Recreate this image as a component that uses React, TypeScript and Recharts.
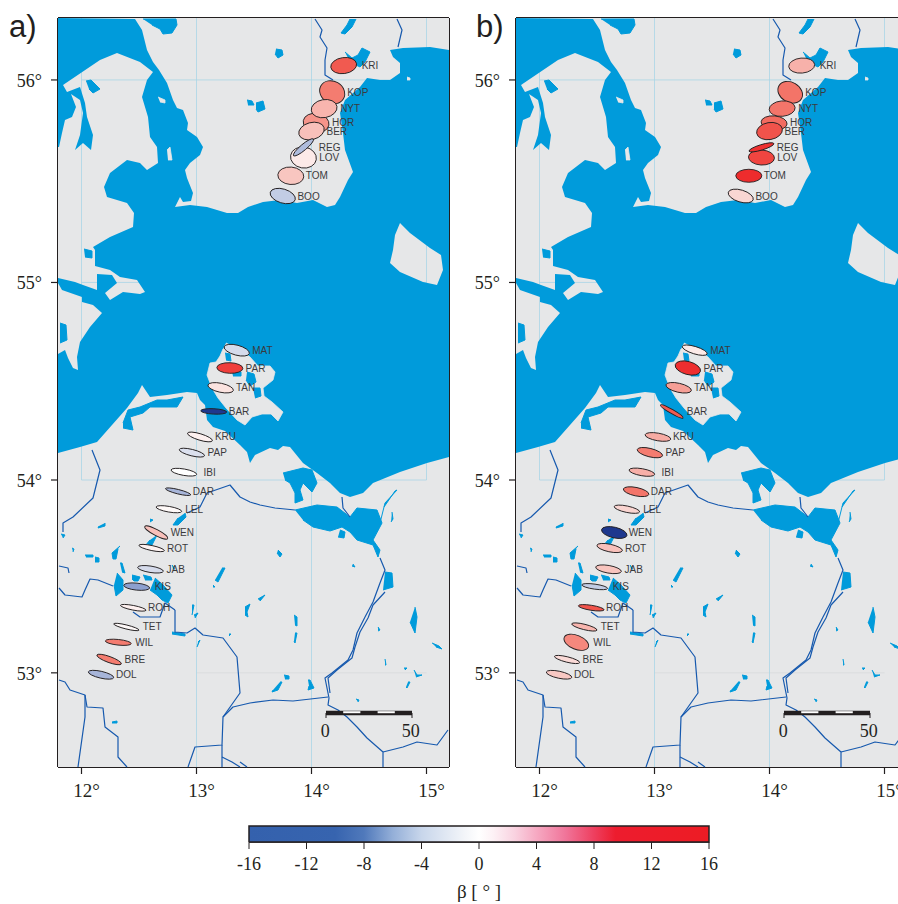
import { ScatterChart, Scatter, XAxis, YAxis, ReferenceLine } from 'recharts'

// Outlines are read off the picture, in Mercator map-grid units
// (115 units per degree of longitude, origin at the frame's SW corner).
const LAND = '#e6e7e8'
const SEA = '#009bdb'
const RIVER = '#1659ae'
const GRID = '#a9d6e6'
const INK = '#231f20'
const FRAME_E = 391
const FRAME_N = 749

const seaOutline = [
  [0,749],[77,748],[84,737],[89,717],[95,705],[101,697],[109,684],[115,667],[119,659],[125,657],[130,644],[129,637],[139,630],[145,620],[142,612],[132,604],[127,597],[129,589],[135,574],[133,566],[125,565],[122,570],[117,560],[132,562],[149,560],[169,554],[180,554],[190,560],[205,565],[222,567],[239,564],[255,567],[269,560],[277,562],[282,570],[290,587],[295,595],[287,617],[285,634],[282,654],[287,667],[302,680],[309,689],[322,687],[332,687],[342,694],[342,704],[335,710],[332,717],[345,719],[372,720],[391,717],
  [391,512],[383,512],[372,519],[352,534],[342,544],[337,532],[335,517],[332,504],[342,495],[365,485],[379,482],[385,497],[383,512],[391,512],
  [391,310],[369,304],[342,295],[315,284],[305,274],[292,270],[282,274],[272,284],[259,294],[245,304],[232,320],[225,321],[220,317],[212,319],[197,312],[192,304],[189,315],[182,322],[167,336],[155,340],[149,347],[147,362],[142,367],[139,374],[129,375],[109,372],[92,370],[84,382],[80,374],[69,359],[54,342],[39,325],[22,320],[0,314],
  [0,413],[7,417],[10,409],[15,399],[20,397],[19,410],[22,425],[32,440],[44,454],[35,462],[24,465],[24,470],[4,477],[0,484],[0,489],[17,485],[25,482],[39,477],[39,493],[54,492],[59,484],[47,474],[52,467],[65,475],[82,473],[87,475],[79,487],[62,490],[52,497],[37,501],[37,509],[37,517],[35,520],[52,530],[75,540],[76,554],[69,564],[49,570],[46,580],[52,594],[69,607],[82,604],[89,597],[100,604],[99,620],[92,630],[90,650],[84,670],[89,687],[95,695],[82,705],[59,714],[42,707],[5,682],[9,675],[22,680],[27,664],[29,650],[35,632],[33,617],[25,624],[17,617],[22,632],[25,654],[22,667],[13,673],[18,660],[14,650],[7,647],[4,634],[1,620],[0,620],
]

const landIslands = [
  [[168,424],[182,417],[192,410],[200,401],[212,401],[217,395],[215,387],[205,379],[206,371],[214,365],[225,355],[220,346],[213,353],[204,353],[194,350],[187,342],[179,347],[168,359],[160,369],[154,379],[149,392],[152,404],[158,405],[162,411],[165,418]],
  [[100,670],[107,667],[107,664],[102,665]],
  [[109,617],[112,620],[114,607],[110,607]],
  [[349,690],[352,689],[352,687],[349,687]],
]

const waterBodies = [
  [[189,395],[196,393],[198,385],[192,381],[188,387]],
  [[195,379],[202,379],[203,371],[197,369]],
  [[167,414],[172,413],[173,406],[168,407]],
  [[174,395],[183,395],[183,391],[175,391]],
  [[65,344],[70,357],[82,360],[99,367],[109,367],[125,370],[119,360],[109,360],[92,360],[85,354],[72,350],[75,337],[65,339]],
  [[225,294],[245,299],[254,297],[259,284],[254,275],[245,284],[242,277],[245,267],[237,264],[237,274],[232,284],[227,287]],
  [[237,257],[259,262],[279,260],[292,250],[299,259],[319,257],[324,244],[315,227],[322,217],[320,210],[315,222],[299,227],[292,235],[284,240],[272,236],[255,240],[245,247]],
  [[298,748],[294,740],[287,733],[283,734],[289,742],[292,748]],
  [[287,715],[294,709],[300,712],[304,719],[312,715],[307,705],[302,700],[292,705]],
  [[218,718],[224,717],[225,712],[220,709],[217,713]],
  [[189,667],[194,666],[196,662],[190,662]],
  [[198,664],[205,666],[207,658],[200,655],[198,658]],
  [[28,686],[33,687],[42,678],[35,674],[31,678]],
  [[85,748],[118,748],[119,742],[114,734],[105,733],[102,738],[94,742]],
  [[26,518],[34,516],[34,509],[27,510]],
  [[2,444],[8,442],[9,427],[2,424]],
  [[327,195],[334,194],[335,180],[325,177]],
  [[220,217],[224,213],[222,210],[219,214]],
  [[295,203],[297,200],[294,201]],
  [[236,152],[239,150],[239,141],[237,142]],
  [[237,134],[239,134],[237,124],[236,126]],
  [[226,92],[231,91],[231,88],[227,88]],
  [[222,85],[224,85],[220,77],[214,75],[215,77]],
  [[250,87],[252,87],[256,79],[250,77],[251,81]],
  [[298,68],[301,67],[300,65]],
  [[357,160],[359,150],[357,134],[352,145]],
  [[374,124],[381,121],[384,118],[378,120]],
  [[320,140],[322,137],[320,136]],
  [[327,108],[328,102],[327,102]],
  [[346,99],[349,99],[347,97]],
  [[356,97],[359,92],[364,92],[358,90]],
  [[350,85],[352,85],[349,79],[348,80]],
  [[334,255],[335,248],[333,245]],
  [[322,244],[327,264],[339,277],[337,276],[326,260]],
  [[282,237],[287,235],[286,229],[280,230]],
  [[127,254],[128,250],[120,242],[115,242],[120,249]],
  [[99,232],[94,222],[87,221],[92,227]],
  [[92,248],[95,247],[92,245]],
  [[47,244],[47,241],[40,239],[41,241]],
  [[3,233],[7,232],[5,229]],
  [[14,219],[16,218],[15,215]],
  [[27,212],[35,212],[35,210],[28,210]],
  [[37,210],[41,209],[41,205],[37,205]],
  [[62,221],[54,214],[55,208],[58,208],[60,218]],
  [[62,204],[64,204],[67,194],[64,195]],
  [[59,194],[65,187],[65,177],[58,171],[56,182]],
  [[74,192],[82,190],[80,186],[76,186],[74,188]],
  [[85,192],[93,190],[94,187],[87,187]],
  [[97,189],[105,182],[114,172],[110,164],[104,167],[99,172],[92,177]],
  [[114,202],[117,198],[115,198]],
  [[164,199],[167,199],[160,185],[157,187]],
  [[155,182],[157,180],[155,180]],
  [[134,162],[136,162],[134,152]],
  [[136,152],[140,154],[137,149]],
  [[171,133],[173,133],[171,131]],
  [[140,125],[142,127],[139,120]],
  [[54,45],[59,46],[59,44],[54,44]],
  [[187,160],[192,163],[189,155],[190,150],[187,152]],
  [[200,168],[207,172],[202,166]],
  [[114,135],[127,133],[127,131],[114,133]],
]

const rivers = [
  [[322,209],[327,197],[322,184],[315,165],[307,150],[299,134],[295,117],[290,107],[274,94],[267,89],[270,74],[271,69],[270,62],[280,57],[289,50],[299,40],[309,29],[325,15],[325,0]],
  [[327,175],[315,162],[310,149],[302,135],[297,120],[294,109],[279,97],[270,89],[272,74]],
  [[130,0],[137,20],[164,22],[165,50],[175,60],[192,64],[215,67],[235,66],[270,70]],
  [[117,157],[117,135],[129,134],[137,139],[145,132],[165,129],[179,110],[182,74],[165,50]],
  [[164,22],[164,0]],
  [[1,87],[7,85],[12,77],[27,72],[29,60],[45,59],[47,40],[60,30],[60,10],[69,0]],
  [[27,72],[27,50],[20,0]],
  [[1,179],[7,172],[24,170],[27,177],[32,188],[40,187],[55,181]],
  [[1,201],[10,199],[11,194]],
  [[34,317],[42,297],[35,269],[15,250],[5,244],[5,235]],
  [[129,254],[142,260],[149,274],[172,282],[182,270],[192,265],[202,262],[217,259],[237,257]],
  [[325,15],[345,20],[359,25],[379,22],[390,37]],
  [[182,5],[189,0]],
  [[164,10],[174,5],[182,0]],
  [[75,155],[82,150],[102,150],[107,164],[117,157]],
  [[257,748],[264,737],[262,730],[269,719],[267,707],[267,692],[275,687]],
  [[339,748],[344,737],[340,720]],
  [[284,270],[285,259],[292,250]],
]

const lonTicks = [12, 13, 14, 15]
const latTicks = [53, 54, 55, 56]

const stationNames = ['KRI','KOP','HOR','NYT','BER','LOV','REG','TOM','BOO','MAT','PAR','TAN','BAR','KRU','PAP','IBI','DAR','LEL','WEN','ROT','JAB','KIS','ROH','TET','WIL','BRE','DOL']
const stationLon = [14.28,14.18,14.04,14.11,14.00,13.93,13.93,13.82,13.75,13.35,13.29,13.21,13.15,13.03,12.96,12.89,12.84,12.76,12.65,12.61,12.60,12.48,12.45,12.39,12.32,12.24,12.17]
const stationLat = [56.07,55.94,55.79,55.86,55.75,55.62,55.67,55.53,55.43,54.66,54.57,54.47,54.35,54.22,54.14,54.04,53.94,53.85,53.73,53.65,53.54,53.45,53.34,53.24,53.16,53.07,52.99]
const labelGap = [18,15,16,16,15,15.7,15.4,15,14.7,15.4,15.7,15.3,15,15,15.7,19.7,14.7,16.4,14.4,15.3,16,18,14.7,16.3,17,15.4,15]

const betaA = [8,6,5,3.5,3,1,-4,2.7,-3,-2,10,1.3,-16,0.7,-1.7,0,-4.5,0.3,3,0.6,-2,-6,0.7,0.3,6,6,-4.5]
const minorA = [8,11,9.5,9,8.5,10.5,3,8.7,7,5,5.3,4.5,2.7,3.2,3.2,3.2,2.2,2.8,3,2.5,3.2,3.5,2.3,2,2.8,3,3.4]
const tiltA = [-8,30,10,-10,-15,10,-40,5,17,15,2,12,3,17,14,10,14,10,28,12,9,6,11,14,6,20,13]

const betaB = [3.7,6.5,7,6.4,8.5,9.5,11,13,1.9,1,12,4.5,8,4,6,3.8,6.4,2,-16,3,2.8,-3,8.5,3.5,5.5,1.7,2.6]
const minorB = [7.5,10,7,7.7,8.5,7.5,2.7,6.5,6,3.7,6.5,4.5,2,3.8,4.2,3.5,4.2,3.2,5.3,3.8,3.8,2.5,2.5,2.7,7,2.7,3.5]
const tiltB = [-5,30,5,-5,-10,3,-17,0,17,17,15,13,30,10,14,10,12,12,13,12,10,8,9,14,22,14,12]

const scaleKm = [0, 10, 20, 30, 40, 50]
const barTicks = [-16, -12, -8, -4, 0, 4, 8, 12, 16]
const barStops: [number, string][] = [
  [-16, '#3461ad'], [-10, '#3764af'], [-8, '#5079bb'], [-6, '#94afd8'], [-4, '#c8d6eb'], [-1, '#f3f5f9'], [0, '#ffffff'],
  [1, '#fdf1f5'], [2.5, '#f9d2e0'], [4, '#f6a9c2'], [6, '#f0759a'], [8, '#ee3f5f'], [9.5, '#ed1c2e'], [16, '#ed1c24'],
]

const markerStops: [number, number[]][] = [
  [-16, [30, 56, 142]], [-6, [141, 160, 207]], [-4, [175, 188, 220]], [-2, [213, 219, 235]], [0, [255, 255, 255]],
  [2, [249, 212, 208]], [4, [247, 171, 163]], [6, [244, 124, 112]], [8, [241, 90, 80]], [11, [238, 48, 48]], [16, [238, 37, 41]],
]

function betaColor(b: number) {
  for (let i = 1; i < markerStops.length; i++) {
    const [v0, c0] = markerStops[i - 1]
    const [v1, c1] = markerStops[i]
    if (b <= v1) {
      const t = (b - v0) / (v1 - v0)
      return `rgb(${c0.map((c, k) => Math.round(c + (c1[k] - c) * t)).join(',')})`
    }
  }
  return '#ee2529'
}

const easting = (lon: number) => 23.5 + 115 * (lon - 12)
const mercDeg = (lat: number) => (180 / Math.PI) * Math.log(Math.tan(Math.PI / 4 + (lat * Math.PI) / 360))
const northing = (lat: number) => 287 + 114.7 * (mercDeg(lat) - mercDeg(54))
const kmEast = (km: number) => 268 + km * 1.72

const pts = (line: number[][]) => line.map(([e, n]) => ({ e, n }))
const seg = (a: number[], b: number[]) => pts([a, b])

const xTicks = lonTicks.map(easting)
const yTicks = latTicks.map(northing)
const N56 = northing(56)
const N55 = northing(55)
const N54 = northing(54)
const N53 = northing(53)
const E12 = easting(12)
const E13 = easting(13)
const E14 = easting(14)
const E15 = easting(15)

const graticule = [
  seg([E12, FRAME_N], [E12, N54]),
  seg([E15, FRAME_N], [E15, N54]),
  seg([E13, FRAME_N], [E13, 0]),
  seg([E14, FRAME_N], [E14, 0]),
  seg([E12, N56], [E15, N56]),
  seg([E12, N55], [E15, N55]),
  seg([E12, N54], [E15, N54]),
]

const waterLine = { stroke: SEA, strokeWidth: 1, strokeLinejoin: 'round', fill: SEA }
const landLine = { stroke: LAND, strokeWidth: 0.8, strokeLinejoin: 'round', fill: LAND }

function stations(beta: number[], minor: number[], tilt: number[]) {
  return stationNames.map((name, i) => ({
    name,
    e: easting(stationLon[i]),
    n: northing(stationLat[i]),
    color: betaColor(beta[i]),
    minor: minor[i],
    tilt: tilt[i],
    gap: labelGap[i],
  }))
}

const NoPoint = () => null

function EllipseMark(props: any) {
  const { cx, cy, payload } = props
  return (
    <ellipse
      cx={cx}
      cy={cy}
      rx={13}
      ry={payload.minor}
      fill={payload.color}
      stroke={INK}
      strokeWidth={0.9}
      transform={`rotate(${payload.tilt} ${cx} ${cy})`}
    />
  )
}

function StationLabel(props: any) {
  const { cx, cy, payload } = props
  return (
    <text x={cx + payload.gap} y={cy + 3.5} fontFamily="Liberation Sans" fontSize={10} fill="#3a3a3c">
      {payload.name}
    </text>
  )
}

function ScaleLabel(props: any) {
  const { cx, cy, payload } = props
  return (
    <text x={cx} y={cy} textAnchor="middle" fontFamily="Liberation Serif" fontSize={18} fill={INK}>
      {payload.text}
    </text>
  )
}

function LonTick(props: any) {
  const { x, y, index } = props
  return (
    <text x={x + 5} y={y + 21} textAnchor="middle" fontFamily="Liberation Serif" fontSize={19} fill={INK}>
      {lonTicks[index]}°
    </text>
  )
}

function LatTick(props: any) {
  const { y, index } = props
  return (
    <text x={42} y={y + 7} textAnchor="end" fontFamily="Liberation Serif" fontSize={18} fill={INK}>
      {latTicks[index]}°
    </text>
  )
}

const axisLine = { stroke: INK, strokeWidth: 2 }
const tickLine = { stroke: INK, strokeWidth: 1.2 }

function MapPanel({ tag, time, beta, minor, tilt, tagX }: { tag: string; time: string; beta: number[]; minor: number[]; tilt: number[]; tagX: number }) {
  const marks = stations(beta, minor, tilt)
  return (
    <ScatterChart width={467} height={802} margin={{ top: 8, right: 8, bottom: 5, left: 8 }}>
      <XAxis xAxisId="b" type="number" dataKey="e" domain={[0, FRAME_E]} ticks={xTicks} interval={0} height={30} tickSize={7} tick={<LonTick />} axisLine={axisLine} tickLine={tickLine} />
      <XAxis xAxisId="t" type="number" orientation="top" domain={[0, FRAME_E]} ticks={xTicks} interval={0} height={10} tickSize={7} tickFormatter={() => ''} axisLine={axisLine} tickLine={tickLine} />
      <YAxis yAxisId="l" type="number" dataKey="n" domain={[0, FRAME_N]} ticks={yTicks} interval={0} width={50} tickSize={7} tick={<LatTick />} axisLine={axisLine} tickLine={tickLine} />
      <YAxis yAxisId="r" type="number" orientation="right" domain={[0, FRAME_N]} ticks={yTicks} interval={0} width={10} tickSize={7} tickFormatter={() => ''} axisLine={axisLine} tickLine={tickLine} />

      <Scatter xAxisId="b" yAxisId="l" data={pts([[0, 0], [FRAME_E, 0], [FRAME_E, FRAME_N], [0, FRAME_N]])} shape={NoPoint} line={{ stroke: 'none', fill: LAND }} isAnimationActive={false} />
      <Scatter xAxisId="b" yAxisId="l" data={seg([E13, N53], [E15, N53])} shape={NoPoint} line={{ stroke: '#d8dbdc', strokeWidth: 0.8 }} isAnimationActive={false} />
      {graticule.map((g, i) => (
        <Scatter key={`g${i}`} xAxisId="b" yAxisId="l" data={g} shape={NoPoint} line={{ stroke: GRID, strokeWidth: 0.8 }} isAnimationActive={false} />
      ))}
      <Scatter xAxisId="b" yAxisId="l" data={pts(seaOutline)} shape={NoPoint} line={{ stroke: 'none', fill: SEA }} isAnimationActive={false} />
      {landIslands.map((p, i) => (
        <Scatter key={`i${i}`} xAxisId="b" yAxisId="l" data={pts(p)} shape={NoPoint} line={landLine} isAnimationActive={false} />
      ))}
      {waterBodies.map((p, i) => (
        <Scatter key={`w${i}`} xAxisId="b" yAxisId="l" data={pts(p)} shape={NoPoint} line={waterLine} isAnimationActive={false} />
      ))}
      {rivers.map((p, i) => (
        <Scatter key={`r${i}`} xAxisId="b" yAxisId="l" data={pts(p)} shape={NoPoint} line={{ stroke: RIVER, strokeWidth: 1.2, strokeLinejoin: 'round' }} isAnimationActive={false} />
      ))}

      <Scatter xAxisId="b" yAxisId="l" data={marks} shape={<EllipseMark />} isAnimationActive={false} />
      <Scatter xAxisId="b" yAxisId="l" data={marks} shape={<StationLabel />} isAnimationActive={false} />

      <Scatter xAxisId="b" yAxisId="l" data={seg([kmEast(0), 54], [kmEast(50), 54])} shape={NoPoint} line={{ stroke: INK, strokeWidth: 4.5 }} isAnimationActive={false} />
      <Scatter xAxisId="b" yAxisId="l" data={seg([kmEast(scaleKm[1]), 54.8], [kmEast(scaleKm[2]), 54.8])} shape={NoPoint} line={{ stroke: '#ffffff', strokeWidth: 2 }} isAnimationActive={false} />
      <Scatter xAxisId="b" yAxisId="l" data={seg([kmEast(scaleKm[3]), 54.8], [kmEast(scaleKm[4]), 54.8])} shape={NoPoint} line={{ stroke: '#ffffff', strokeWidth: 2 }} isAnimationActive={false} />
      <Scatter xAxisId="b" yAxisId="l" data={seg([kmEast(scaleKm[0]), 54], [kmEast(scaleKm[0]), 49])} shape={NoPoint} line={{ stroke: INK, strokeWidth: 1 }} isAnimationActive={false} />
      <Scatter xAxisId="b" yAxisId="l" data={seg([kmEast(scaleKm[5]), 54], [kmEast(scaleKm[5]), 49])} shape={NoPoint} line={{ stroke: INK, strokeWidth: 1 }} isAnimationActive={false} />
      <Scatter xAxisId="b" yAxisId="l" data={[{ e: kmEast(0) - 0.7, n: 30, text: '0' }, { e: kmEast(50) - 1.3, n: 30, text: '50' }]} shape={<ScaleLabel />} isAnimationActive={false} />

      <text x={tagX} y={37} fontFamily="Liberation Sans" fontSize={31} fill={INK}>{tag}</text>
      <text x={82} y={45} fontFamily="Liberation Sans" fontSize={15.5} fill={INK}>{time}</text>
    </ScatterChart>
  )
}

function ColorBar() {
  return (
    <ScatterChart width={898} height={94} margin={{ top: 16, right: 189, bottom: 0, left: 249 }}>
      <defs>
        <linearGradient id="betaRamp" x1="0" x2="1" y1="0" y2="0">
          {barStops.map(([v, c]) => (
            <stop key={v} offset={`${((v + 16) / 32) * 100}%`} stopColor={c} />
          ))}
        </linearGradient>
      </defs>
      <XAxis
        type="number"
        dataKey="x"
        domain={[-16, 16]}
        ticks={barTicks}
        interval={0}
        height={62}
        tickSize={7}
        tickMargin={8}
        tick={{ fontFamily: 'Liberation Serif', fontSize: 18, fill: INK }}
        axisLine={{ stroke: INK, strokeWidth: 1.5 }}
        tickLine={{ stroke: INK, strokeWidth: 1 }}
        label={{ value: 'β [ ° ]', position: 'insideBottom', offset: 6, fontFamily: 'Liberation Serif', fontSize: 19, fill: INK }}
      />
      <YAxis type="number" dataKey="y" domain={[0, 1]} hide />
      <Scatter
        data={[{ x: -16, y: 0 }, { x: 16, y: 0 }, { x: 16, y: 1 }, { x: -16, y: 1 }, { x: -16, y: 0 }]}
        shape={NoPoint}
        line={{ stroke: INK, strokeWidth: 1.5, fill: 'url(#betaRamp)' }}
        isAnimationActive={false}
      />
      <ReferenceLine x={0} stroke={INK} strokeWidth={1} />
    </ScatterChart>
  )
}

export default function App() {
  return (
    <div style={{ position: 'absolute', left: 0, top: 0, width: 898, height: 904, overflow: 'hidden', background: '#fff' }}>
      <div style={{ position: 'absolute', left: 0, top: 0 }}>
        <MapPanel tag="a)" tagX={9} time="992 s" beta={betaA} minor={minorA} tilt={tiltA} />
      </div>
      <div style={{ position: 'absolute', left: 458, top: 0 }}>
        <MapPanel tag="b)" tagX={18} time="1820 s" beta={betaB} minor={minorB} tilt={tiltB} />
      </div>
      <div style={{ position: 'absolute', left: 0, top: 810 }}>
        <ColorBar />
      </div>
    </div>
  )
}
